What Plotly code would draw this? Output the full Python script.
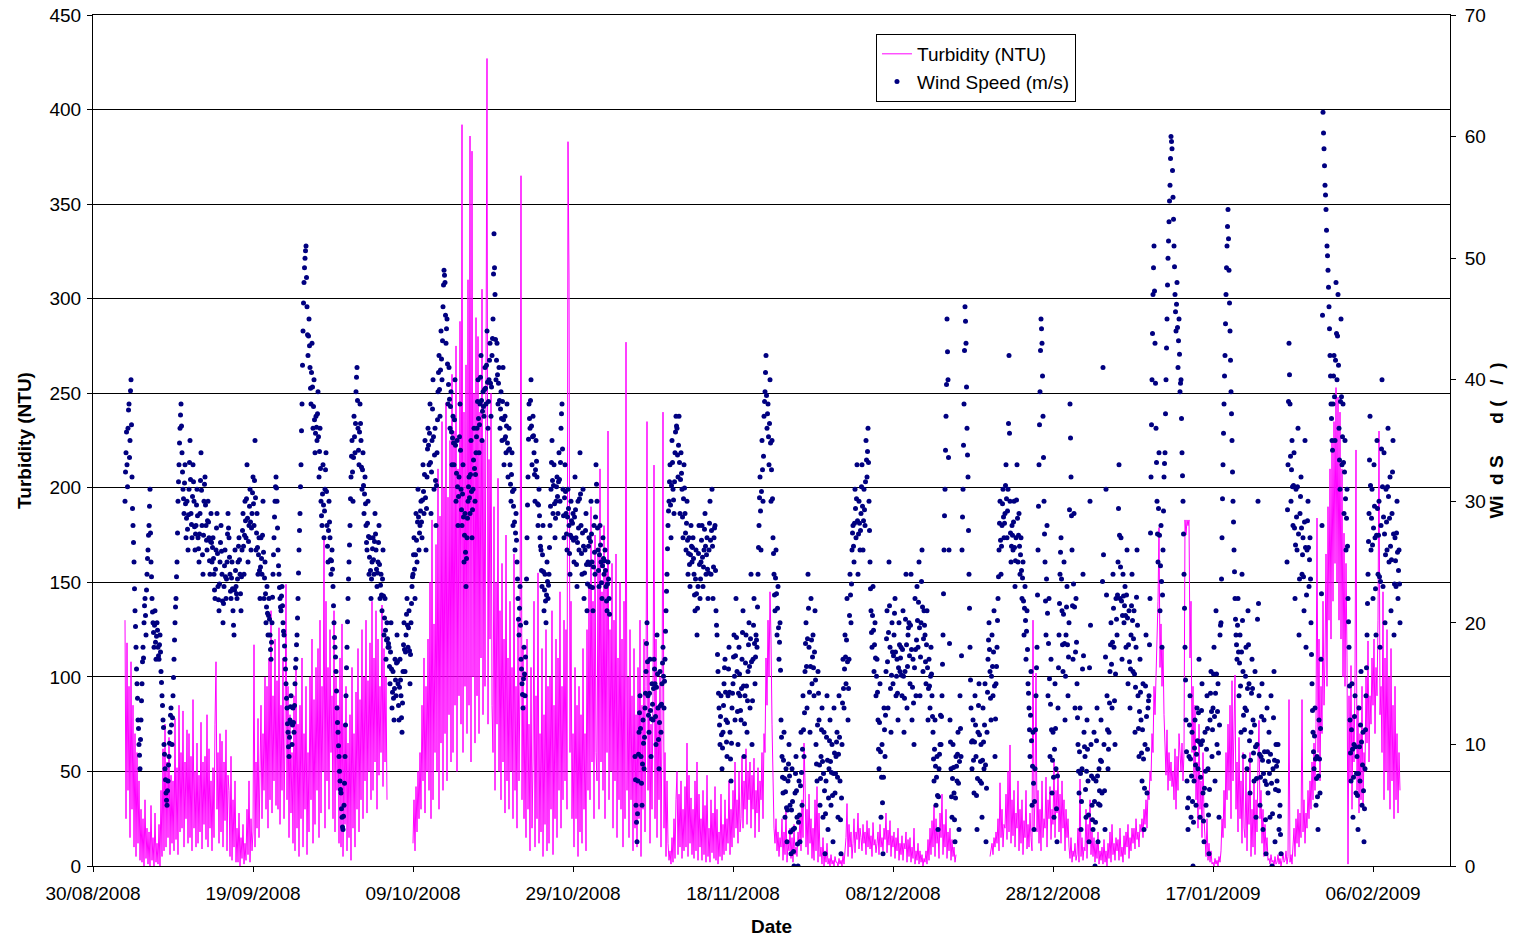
import pandas as pd
import plotly.graph_objects as go

N = None

# Dates at which each month's readings start
month_starts = ["2008-09-03", "2008-10-01", "2008-11-01", "2008-12-01", "2009-01-01", "2009-02-01"]

x_tick_dates = ["2008-08-30", "2008-09-19", "2008-10-09", "2008-10-29", "2008-11-18",
                "2008-12-08", "2008-12-28", "2009-01-17", "2009-02-06"]

# Wind speed (m/s), every 90 minutes, one row per day
wind_sep = [
    30,32.4,34,35.7,33,31.2,36,37.5,38,33.6,35,39.1,40,36.3,32,29.4,
    28,26.6,25,22.8,21,19.7,18,16.2,15,13.8,12,11.3,10,9.1,8,10.4,
    12,13.6,15,16.8,18,17.1,20,21.4,22,20.6,19,22.7,24,25.3,26,27.2,
    28,29.6,31,27.4,25,23.8,22,20.9,20,19.2,18,19.8,21,18.4,17,18.9,
    20,19.4,18,17.3,17,18.2,19,17.6,16,15.1,14,13.2,12,11.4,10,9.2,
    8,7.1,6,5.4,5,6.2,7,8.3,9,10.1,11,12.4,13,11.6,10,12.2,
    14,15.5,17,18.6,20,21.3,22,23.8,25,27.4,30,31.6,33,34.8,36,37.1,
    38,36.2,34,32.4,31,30.2,29,31.5,33,29.8,27,28.6,30,27.7,26,28.9,
    31,33.2,35,31.8,29,28.1,27,30.4,33,31.6,30,27.9,26,27.3,28,29.7,
    31,28.8,27,26.1,25,27.3,29,31.7,34,30.9,28,25.6,24,27.2,30,31.4,
    32,29.7,28,26.8,26,28.4,30,28.3,27,25.1,24,26.7,29,26.6,25,26.2,
    27,25.3,24,22.7,22,24.4,26,27.8,29,25.7,23,21.9,21,23.2,25,26.6,
    28,25.9,24,21.8,20,21.6,23,24.7,26,23.8,22,23.6,25,27.3,29,27.8,
    27,25.4,24,22.6,22,23.7,25,22.8,21,19.8,19,22.7,26,24.3,23,22.4,
    22,23.6,25,26.3,27,25.2,24,22.4,21,23.8,26,27.6,29,26.3,24,27.2,
    30,28.4,27,30.2,33,28.6,25,26.7,28,29.6,31,28.3,26,27.8,29,30.7,
    32,29.8,28,31.7,35,30.3,26,27.4,29,26.2,24,25.6,27,24.3,22,24.6,
    27,25.3,24,27.2,30,25.8,22,23.7,25,22.4,20,21.3,23,20.8,19,20.6,
    22,20.3,19,17.8,17,18.4,20,22.1,24,25.6,27,28.7,30,31.2,32,31.1,
    30,27.8,26,24.7,24,22.9,22,21.3,21,22.2,23,21.4,20,19.3,19,18.1,
    17,16.2,15,13.8,13,11.7,11,9.8,9,10.6,12,13.1,14,11.8,10,11.6,
    13,11.8,11,13.2,15,16.3,17,18.2,19,20.4,22,24.1,26,27.6,29,31.2,
    33,35.8,38,41.2,44,46.3,48,49.2,50,50.6,51,48.4,46,43.7,42,43.6,
    45,42.8,41,39.3,38,40.6,43,39.4,36,37.8,40,36.7,34,35.6,37,36.1,
    35,37.2,39,35.3,32,34.1,36,32.7,30,28.8,28,30.6,33,29.7,27,29.2,
    31,32.6,34,30.8,28,26.3,25,27.6,30,28.3,27,25.2,24,25.1,26,24.4,
    23,21.4,20,18.8,18,17.2,16,14.4,13,11.8,11,9.9,9,7.8,7,6.3,
    6,4.7,4,3.2,3,4.1,5,6.8,9,11.6,14,16.3,18,20.1,22,23.6,
]
wind_oct = [
    25,26.4,28,30.2,32,33.7,35,32.4,30,33.6,37,35.3,34,36.4,39,40.2,
    41,38.3,36,34.2,33,35.7,38,36.4,35,32.8,31,32.6,34,31.3,29,30.6,
    32,29.8,28,26.6,26,28.2,30,27.1,24,25.4,27,24.3,22,23.6,25,26.1,
    27,25.2,24,26.7,29,27.3,26,24.4,23,24.1,25,26.6,28,24.8,22,23.1,
    24,22.3,21,23.6,26,22.2,19,20.4,22,19.4,17,18.6,20,18.7,18,18.3,
    18,16.4,15,17.6,20,16.2,13,14.3,16,13.8,12,14.6,17,15.3,14,16.7,
    19,16.8,15,13.2,12,14.7,17,15.3,14,12.2,11,13.4,16,18.2,20,17.8,
    16,17.6,19,20.7,22,19.8,18,19.6,21,17.7,15,17.4,20,21.6,23,23.8,
    24,25.6,27,24.4,22,25.6,29,26.8,25,28.3,31,28.7,26,27.4,28,29.2,
    30,28.3,27,30.1,33,30.8,29,32.2,35,30.3,26,29.4,32,34.3,36,34.6,
    33,35.6,38,33.2,29,32.4,35,37.6,40,35.3,31,33.8,36,31.7,28,31.3,
    34,36.7,39,40.6,42,39.2,37,40.8,44,41.7,40,43.2,46,47.8,49,48.6,
    48,45.3,43,44.2,45,41.3,38,39.6,41,38.4,36,37.8,39,35.7,33,35.2,
    37,34.8,33,36.7,40,34.6,30,32.3,35,31.2,28,30.4,32,35.3,38,34.2,
    31,29.3,28,30.6,33,28.7,25,27.2,29,25.8,23,25.3,27,28.6,30,31.2,
    32,30.3,29,32.2,35,30.8,27,29.3,31,33.4,36,32.7,30,32.2,34,35.3,
    36,38.2,40,36.8,34,36.3,38,40.2,42,38.3,35,37.4,39,37.8,37,39.2,
    41,39.3,38,41.2,44,39.8,36,38.2,40,41.6,43,39.7,37,39.4,42,43.4,
    45,48.7,52,49.2,47,43.3,40,41.6,43,40.4,38,39.7,41,38.3,36,37.6,
    39,36.8,35,38.2,41,36.7,33,35.1,37,35.3,34,36.2,38,34.8,32,34.2,
    36,34.3,33,31.4,30,32.2,34,30.8,28,29.6,31,28.3,26,27.4,29,26.8,
    25,23.6,22,20.3,19,21.2,23,19.8,17,16.2,15,14.1,13,15.4,18,15.8,
    14,17.2,20,23.6,27,29.7,32,35.1,38,36.8,36,38.3,40,36.2,33,35.3,
    37,35.4,34,32.2,30,32.6,35,33.3,32,29.8,28,29.7,31,28.8,27,26.3,
    26,24.3,23,25.6,28,24.2,21,22.7,24,21.8,20,22.3,25,23.4,22,23.1,
    24,26.2,28,29.6,31,33.2,35,31.7,29,31.3,33,29.8,27,28.6,30,31.2,
    32,30.4,29,31.6,34,31.8,30,33.2,36,37.2,38,34.3,31,28.8,27,30.3,
    33,30.8,29,27.3,26,28.7,31,29.4,28,25.7,24,27.2,30,28.4,27,28.2,
    29,26.8,25,28.7,32,29.3,27,24.8,23,26.6,30,27.8,26,30.2,34,30.6,
    28,25.7,24,27.4,31,26.3,22,24.1,26,27.6,29,24.8,21,23.2,25,26.3,
    27,24.8,23,26.7,30,27.3,25,22.9,21,24.6,28,25.8,24,28.7,33,31.4,
]
wind_nov = [
    30,27.8,26,24.3,23,25.6,28,26.4,25,23.3,22,24.7,27,25.3,24,25.1,
    26,24.3,23,21.8,21,23.2,25,23.6,22,20.7,N,N,N,N,N,N,
    N,N,N,N,N,N,N,N,N,N,N,N,N,N,N,N,
    N,N,N,N,N,N,N,N,N,N,N,N,N,N,N,N,
    N,N,N,N,N,N,N,N,N,N,N,N,9,7.1,5,3.6,
    2,4.3,7,9.2,11,12.6,14,11.3,9,6.8,5,8.4,12,10.1,8,10.6,
    13,14.2,16,18.3,20,16.8,14,12.4,11,14.2,17,12.8,9,12.1,15,13.3,
    12,14.6,17,16.2,15,12.3,10,14.7,19,15.8,13,10.4,8,11.8,16,13.2,
    11,13.3,15,16.7,18,15.6,13,15.2,17,19.3,21,22.6,24,26.1,28,29.2,
    30,31.6,33,29.7,27,31.3,35,33.2,31,30.1,29,31.6,34,35.7,37,36.2,
    36,33.8,32,34.6,37,33.2,29,31.8,34,32.3,31,28.7,27,30.2,33,31.1,
    29,27.4,26,28.2,30,26.8,24,25.7,27,24.8,23,25.6,28,26.3,25,26.2,
    27,25.3,24,22.3,21,23.6,26,22.4,19,21.2,23,25.7,28,24.8,22,23.6,
    25,26.8,28,25.4,23,24.6,26,27.7,29,26.3,24,25.6,27,24.4,22,24.1,
    26,28.2,30,26.8,24,27.6,31,26.3,22,24.6,27,27.8,28,24.3,21,19.8,
    19,17.4,16,14.2,13,11.6,10,12.3,14,10.8,8,9.7,11,13.2,15,16.3,
    17,14.3,12,10.2,9,11.8,14,16.2,18,14.3,11,8.8,7,10.1,13,14.2,
    15,17.2,19,15.6,12,17.3,22,18.8,16,12.7,10,14.2,18,15.8,14,12.8,
    12,14.6,17,19.2,21,14.8,9,11.7,14,16.7,19,14.8,11,13.6,16,18.2,
    20,16.4,13,18.7,24,16.8,10,13.6,17,19.8,22,18.3,15,17.2,19,18.6,
    18,21.3,24,26.2,28,30.3,32,29.2,26,30.8,35,32.6,30,33.7,37,38.2,
    39,40.6,42,38.7,36,37.2,38,35.3,33,36.4,40,34.8,30,32.6,35,30.2,
    27,25.7,24,22.3,21,23.7,26,22.4,19,21.2,23,19.6,17,18.4,20,16.1,
    12,10.6,9,7.3,6,8.7,11,7.2,4,6.1,8,4.8,2,4.6,7,8.4,
    10,7.4,5,2.8,1,4.6,8,5.3,3,1.2,0,3.1,6,7.6,9,6.2,
    4,1.8,0,3.6,7,4.2,2,6.6,11,7.7,5,9.6,14,11.2,9,12.6,
    16,18.3,20,16.4,13,18.7,24,21.2,18,14.3,11,16.4,22,18.6,15,17.2,
    19,16.3,14,17.6,21,15.3,10,8.4,7,11.6,16,14.2,12,8.3,5,7.2,
    9,11.2,13,8.6,4,7.6,11,6.2,1,4.3,7,10.6,14,8.7,3,5.6,
    8,10.3,12,8.6,5,7.7,10,5.8,2,7.6,13,9.3,6,7.6,9,10.2,
]
wind_dec = [
    11,7.3,4,9.2,14,10.6,7,3.8,1,5.6,10,13.4,17,14.6,13,16.2,
    19,17.2,15,18.6,22,16.8,12,14.6,17,20.6,24,22.3,20,23.2,26,27.4,
    28,26.3,25,28.2,31,29.4,27,30.2,33,28.4,24,27.3,30,28.2,26,27.6,
    29,31.2,33,29.6,26,28.4,31,29.3,28,31.6,35,33.4,32,34.1,36,33.2,
    30,27.6,25,22.8,21,19.2,18,20.6,23,19.4,16,18.2,20,17.1,14,15.6,
    17,14.3,12,9.6,8,11.8,15,9.4,4,7.3,10,5.2,1,7.3,13,11.2,
    9,12.4,16,18.7,21,16.8,13,19.2,25,21.4,18,14.6,11,15.7,20,17.6,
    15,17.3,19,20.8,22,17.6,14,15.6,17,14.2,12,16.3,20,18.2,16,17.1,
    18,15.7,14,17.8,21,15.6,11,13.8,16,20.3,24,18.2,13,16.4,19,19.6,
    20,17.3,15,19.8,24,17.8,12,14.7,17,13.4,10,16.3,22,17.8,14,18.6,
    23,20.2,18,21.7,25,19.6,14,17.2,20,23.4,26,21.3,16,18.7,21,19.8,
    19,16.8,15,18.2,21,16.3,12,14.6,17,14.8,13,15.6,18,15.8,14,12.3,
    11,8.8,7,9.6,12,8.2,5,7.3,9,5.8,3,5.7,8,9.2,10,12.4,
    10,12.3,14,16.6,19,22.4,26,28.8,31,34.2,37,39.6,45,42.3,40,33.6,
    26,18.3,12,10.2,8,5.7,4,7.2,10,8.1,6,3.8,2,5.6,9,8.2,
    7,9.2,11,6.8,3,8.6,14,11.3,9,17.3,26,28.7,31,34.6,38,42.4,
    46,44.8,43,39.4,36,33.8,32,27.6,24,21.2,18,15.3,13,10.2,8,10.3,
    12,8.7,6,10.2,14,11.6,9,5.8,3,7.2,11,13.2,15,10.8,7,8.6,
    10,6.8,4,8.7,13,10.2,8,11.6,15,8.3,2,6.4,11,14.3,17,18.6,
    20,17.8,16,13.8,12,15.6,19,16.4,14,17.6,21,14.8,9,12.1,15,16.4,
    18,20.2,22,23.8,26,28.2,30,26.8,24,26.3,28,29.8,31,28.7,27,28.2,
    29,31.3,33,30.2,27,29.2,31,36.4,42,35.6,30,27.4,25,26.3,28,27.2,
    26,28.3,30,26.2,23,25.1,27,30.1,33,28.6,25,27.2,29,26.3,24,25.6,
    27,24.3,22,23.7,25,21.8,19,21.2,23,20.2,17,19.3,21,17.8,15,14.2,
    13,11.2,9,12.4,16,10.3,5,8.2,11,6.8,3,5.3,8,11.2,14,16.3,
    18,22.3,26,29.6,33,36.3,39,42.4,45,44.2,43,40.3,37,33.6,30,27.3,
    25,21.8,19,23.6,28,20.8,14,18.3,22,15.4,9,13.3,17,11.2,6,8.7,
    11,7.3,4,9.6,15,11.3,8,4.7,2,7.4,13,16.3,19,21.6,24,25.8,
    27,23.6,21,18.2,16,20.7,25,18.3,12,15.6,19,21.3,23,18.2,14,17.2,
    20,29.3,38,35.2,32,28.8,26,21.4,17,23.2,29,21.3,13,17.6,22,18.4,
    15,12.2,10,7.8,6,9.4,13,7.6,3,5.3,8,16.2,24,17.3,11,9.8,
]
wind_jan = [
    9,6.3,4,7.8,12,9.6,7,4.2,2,16.3,30,19.8,10,7.4,5,3.8,
    3,7.2,11,5.3,0,3.6,7,10.3,13,7.4,2,5.1,8,6.2,5,8.7,
    12,8.6,6,23.4,41,25.6,10,6.2,3,17.2,31,22.3,14,11.2,8,9.6,
    11,13.4,16,18.2,20,16.6,13,18.4,24,21.2,18,13.6,10,15.8,22,20.3,
    19,22.3,25,29.4,33,27.2,22,24.6,27,21.8,17,20.6,24,22.2,20,21.4,
    23,20.6,18,22.3,26,20.4,15,18.2,21,16.8,13,16.2,19,21.4,24,20.2,
    16,18.7,21,15.8,11,14.7,18,22.1,26,19.8,14,11.3,9,12.7,17,14.3,
    12,9.3,7,11.2,15,8.8,3,6.4,10,14.8,19,12.3,6,9.6,13,13.6,
    14,18.2,22,27.4,32,36.3,40,43.8,47,49.2,51,47.3,43,39.7,36,33.2,
    30,27.3,25,29.4,34,27.2,21,24.7,28,23.4,18,22.3,26,29.2,32,33.1,
    34,37.2,40,42.6,45,47.8,50,51.4,53,54.7,56,58.2,60,59.6,59,57.2,
    55,53.2,51,49.3,47,45.6,44,46.2,48,44.3,41,43.2,45,42.1,39,39.7,
    40,36.8,34,32.1,30,27.3,24,21.2,18,15.3,12,9.4,7,4.8,3,5.6,
    9,11.6,14,8.8,4,7.4,11,5.3,0,3.6,7,9.7,12,8.3,5,9.2,
    13,10.3,8,12.6,17,10.2,4,7.3,10,12.8,15,10.3,6,3.7,2,6.4,
    11,7.8,5,9.6,14,11.3,8,4.2,1,6.3,12,14.2,16,12.7,9,11.2,
    13,15.8,18,12.3,7,14.2,21,15.8,10,12.7,15,9.3,4,11.6,19,19.8,
    20,23.6,27,30.2,33,35.6,38,40.3,42,44.6,47,49.2,51,52.6,54,51.6,
    49,46.3,44,41.6,39,37.2,35,32.4,30,28.3,26,24.2,22,20.3,19,18.2,
    17,19.8,22,17.6,14,16.7,19,14.8,11,17.6,24,20.2,16,12.4,9,11.2,
    13,15.6,18,12.8,8,14.6,21,18.2,15,10.3,6,8.7,11,14.2,17,14.6,
    12,9.3,7,11.6,16,9.8,4,7.2,10,20.3,30,21.6,14,9.2,5,7.3,
    9,12.3,15,8.7,3,7.6,12,9.4,7,3.8,1,6.7,13,9.4,6,8.6,
    11,7.6,4,9.2,14,6.8,0,4.3,8,12.2,16,8.7,2,6.3,10,8.2,
    7,8.6,10,6.2,3,4.1,5,2.6,1,N,N,N,N,N,N,N,
    N,N,N,N,25,29.3,33,38.2,43,40.4,38,33.7,30,32.6,35,31.2,
    28,31.3,34,27.8,22,26.4,31,28.7,26,31.2,36,27.3,19,23.6,29,30.4,
    32,27.8,24,25.6,27,23.8,21,28.3,35,26.2,18,22.3,26,28.4,30,26.2,
    23,25.2,27,23.6,20,17.4,15,12.8,11,9.4,8,10.7,13,8.8,5,7.2,
    9,5.7,3,7.4,12,8.8,6,11.3,17,22.4,28,45.3,62,60.3,59,57.6,
    56,55.2,54,52.3,51,50.2,49,47.6,46,44.2,42,40.3,38,36.8,35,34.2,
]
wind_feb = [
    38,40.3,42,38.6,35,41.6,48,43.8,40,43.6,47,41.2,36,33.4,31,38.2,
    45,38.6,33,35.3,38,33.2,29,32.4,35,30.2,26,28.6,31,26.3,22,20.1,
    18,14.8,12,9.3,7,11.2,15,9.6,4,7.3,10,12.3,14,9.8,6,7.6,
    9,5.8,3,7.6,13,9.8,7,11.6,16,10.2,5,8.3,11,6.2,2,4.7,
    8,11.2,14,16.3,19,21.6,24,26.7,29,33.4,37,31.3,26,28.6,31,26.4,
    22,27.8,33,29.6,27,22.8,19,27.2,35,29.4,24,27.2,30,23.8,18,23.4,
    28,34.3,40,31.2,23,28.7,34,27.3,20,25.6,31,28.3,26,31.2,36,30.4,
    25,28.6,32,26.3,21,25.2,29,32.4,35,27.3,19,23.2,27,25.1,23,27.4,
    30,25.8,22,24.3,26,23.2,20,
]

# Turbidity (NTU), 3-hourly, one row per day
turb_sep = [
    130,25,118,40,95,15,108,30,
    85,10,70,5,60,12,45,3,
    30,2,25,0,35,4,20,1,
    18,0,32,3,15,0,28,2,
    12,1,22,0,40,5,62,8,
    75,10,55,15,68,6,48,12,
    45,8,78,14,52,6,85,18,
    60,20,82,10,55,25,72,12,
    70,15,58,8,88,20,50,10,
    65,12,48,18,76,9,55,22,
    58,14,80,10,62,20,45,8,
    52,15,75,108,30,60,12,70,
    18,66,10,55,24,72,8,48,
    40,5,58,3,35,10,45,2,
    20,2,28,0,15,4,22,1,
    12,3,30,6,45,2,25,8,
    18,117,10,55,20,78,15,60,
    85,25,70,40,100,30,95,20,
    110,35,135,28,90,45,120,32,
    98,30,126,22,85,40,110,25,
    70,149,35,95,15,80,28,60,
    12,90,8,105,20,75,5,85,
    25,110,10,70,30,95,6,60,
    18,100,35,120,12,88,22,105,
    40,115,15,130,28,95,50,174,
    20,140,45,105,30,125,60,90,
    25,135,18,100,40,85,12,110,
    10,128,5,75,22,95,8,65,
]
turb_oct = [
    15,80,3,105,20,70,10,92,
    30,115,18,88,35,125,25,100,
    45,130,28,98,50,118,35,140,
    40,110,55,135,30,120,48,95,
    60,138,42,115,55,100,35,N,
    N,N,N,N,N,N,N,N,
    N,N,N,N,N,N,N,N,
    N,N,N,N,N,N,N,N,
    12,35,8,42,18,50,25,60,
    30,85,45,110,28,95,50,120,
    40,150,25,183,35,128,60,170,
    50,210,30,185,65,235,40,200,
    70,245,45,195,80,225,55,260,
    60,230,85,275,50,210,90,288,
    75,392,60,240,95,265,70,310,
    85,386,55,378,100,250,65,290,
    90,280,70,240,110,305,80,225,
    95,260,427,75,215,120,250,85,
    60,190,40,150,75,205,50,135,
    35,160,55,120,28,175,45,110,
    30,140,50,105,25,165,40,95,
    20,130,45,100,365,35,115,25,
    85,15,120,30,75,8,105,20,
    55,140,10,90,25,155,12,70,
    18,115,5,80,22,125,8,95,
    12,100,30,135,6,85,25,120,
    15,110,40,145,20,95,35,130,
    45,125,30,383,312,60,140,25,
    70,10,105,25,85,5,95,18,
    80,12,115,30,70,8,125,40,
    150,35,190,55,140,25,175,60,
]
turb_nov = [
    45,165,30,210,55,145,40,180,
    25,155,60,230,35,125,50,160,
    20,130,45,165,15,110,35,150,
    30,120,10,140,25,277,40,100,
    15,125,35,90,8,115,20,80,
    10,105,25,130,5,85,30,120,
    18,95,235,40,110,12,75,30,
    90,212,25,120,15,85,35,100,
    10,75,240,20,60,5,45,12,
    3,8,1,15,2,25,4,35,
    50,6,38,10,45,4,30,8,
    42,10,65,5,48,12,36,6,
    30,4,45,8,55,3,38,10,
    25,3,40,6,32,2,48,5,
    20,2,35,7,28,4,42,3,
    30,1,18,5,38,3,22,6,
    35,8,25,12,45,6,30,10,
    40,15,55,20,35,12,50,18,
    25,58,20,45,30,62,22,50,
    35,55,20,48,30,57,15,40,
    28,52,18,45,35,60,25,70,
    60,110,85,130,100,145,120,75,
    40,20,12,25,8,18,5,15,
    10,25,3,18,6,30,2,12,
    8,20,4,15,2,22,6,10,
    5,18,12,28,8,35,15,65,
    45,10,30,6,38,12,25,4,
    20,3,35,8,42,2,28,5,
    10,1,15,0,8,2,12,1,
    4,0,6,1,3,0,5,2,
]
turb_dec = [
    2,0,4,1,3,0,6,1,
    8,15,33,5,22,10,18,4,
    12,25,7,18,14,28,9,20,
    15,8,22,12,18,6,24,10,
    20,9,16,5,23,11,14,7,
    12,18,6,22,10,15,8,20,
    14,28,7,19,11,24,5,16,
    10,18,4,15,8,20,3,12,
    6,16,3,12,9,18,2,14,
    5,15,2,10,4,20,1,8,
    3,12,1,8,2,6,0,4,
    2,8,1,14,3,20,6,24,
    10,32,5,25,12,18,4,28,
    15,38,6,22,10,30,4,18,
    8,20,3,14,5,10,2,6,
    N,N,N,N,N,N,N,N,
    N,N,N,N,N,N,N,N,
    N,N,N,N,N,N,N,N,
    N,N,N,N,N,N,N,N,
    N,5,8,12,6,15,10,18,
    12,25,8,44,15,30,10,22,
    20,38,14,50,18,64,12,35,
    16,40,10,28,20,45,8,30,
    12,35,6,24,15,40,9,22,
    10,28,15,8,130,20,35,102,
    18,40,12,30,8,45,15,25,
    20,47,10,35,25,42,14,30,
    22,55,15,40,28,50,18,38,
    12,45,20,35,8,30,15,25,
    10,4,15,2,8,5,12,3,
    6,20,2,46,5,15,3,10,
]
turb_jan = [
    8,30,4,22,12,35,6,18,
    5,15,2,12,4,18,1,8,
    3,10,1,14,2,8,0,12,
    4,18,2,22,6,12,3,15,
    8,14,3,20,5,10,2,16,
    6,18,10,22,4,15,8,20,
    12,20,9,25,14,18,10,22,
    18,25,15,30,22,35,20,40,
    35,50,45,70,60,95,80,110,
    120,140,179,105,128,95,115,80,
    65,48,72,40,60,45,55,42,
    50,35,62,30,58,40,70,55,
    50,65,45,60,183,175,183,180,
    183,110,140,60,95,45,85,35,
    55,20,75,30,45,15,60,25,
    15,5,25,3,12,2,8,1,
    2,0,4,1,3,0,5,2,
    8,25,15,40,20,60,35,75,
    40,85,25,98,45,70,101,30,
    55,18,68,25,45,12,60,20,
    15,50,8,38,22,60,5,30,
    10,45,6,35,18,55,77,25,
    40,12,30,5,22,8,15,3,
    4,1,6,2,3,0,5,1,
    2,6,1,4,0,3,7,2,
    3,8,1,5,88,2,6,1,
    8,20,5,25,12,30,10,28,
    15,88,18,35,12,28,20,40,
    25,45,30,55,35,65,40,75,
    184,60,120,45,95,70,140,85,
    110,165,95,190,130,210,120,225,
]
turb_feb = [
    140,235,160,253,150,248,130,240,
    120,210,100,176,95,160,110,1,
    90,45,106,30,80,55,100,220,
    40,85,28,70,35,95,30,60,
    50,100,65,119,55,90,75,110,
    85,120,70,105,90,130,230,80,
    95,60,145,35,110,50,125,40,
    100,30,115,45,85,25,95,35,
    70,28,60,40,
]

wind_months = [wind_sep, wind_oct, wind_nov, wind_dec, wind_jan, wind_feb]
turb_months = [turb_sep, turb_oct, turb_nov, turb_dec, turb_jan, turb_feb]

wind_x, wind_y, turb_x, turb_y = [], [], [], []
for start, wl, tl in zip(month_starts, wind_months, turb_months):
    wind_x += list(pd.date_range(start, periods=len(wl), freq="90min"))
    wind_y += wl
    turb_x += list(pd.date_range(start, periods=len(tl), freq="3h"))
    turb_y += tl

FONT = "Liberation Sans, Arial, sans-serif"

fig = go.Figure()
fig.add_trace(go.Scatter(
    x=turb_x, y=turb_y, mode="lines", name="Turbidity (NTU)",
    line=dict(color="#FF00FF", width=1), connectgaps=False,
))
fig.add_trace(go.Scatter(
    x=wind_x, y=wind_y, mode="markers", name="Wind Speed (m/s)",
    marker=dict(color="#000080", size=5, line=dict(width=0)), yaxis="y2",
))

nb = "\u00a0"
right_title = "Wi" + nb * 2 + "d S" + nb * 6 + "d (" + nb * 3 + "/" + nb * 2 + ")"

fig.update_layout(
    width=1517, height=939, autosize=False,
    paper_bgcolor="white", plot_bgcolor="white",
    margin=dict(l=93, r=67, t=15, b=73),
    font=dict(family=FONT, size=19, color="black"),
    showlegend=True,
    xaxis=dict(
        type="date", range=["2008-08-30", "2009-02-15 15:00"],
        tickvals=x_tick_dates, tickformat="%d/%m/%Y",
        ticks="outside", ticklen=5, tickcolor="black", ticklabelstandoff=5,
        showline=True, linecolor="black", linewidth=1, mirror=True,
        showgrid=False, zeroline=False,
        title=dict(text="Date", font=dict(family=FONT, size=19, weight="bold"), standoff=16),
        automargin=False,
    ),
    yaxis=dict(
        range=[0, 450], tick0=0, dtick=50,
        showgrid=True, gridcolor="black", gridwidth=1,
        ticks="outside", ticklen=5, tickcolor="black", ticklabelstandoff=2,
        showline=True, linecolor="black", linewidth=1,
        zeroline=False,
        title=dict(text="Turbidity (NTU)", font=dict(family=FONT, size=19, weight="bold"), standoff=12),
        automargin=False,
    ),
    yaxis2=dict(
        range=[0, 70], tick0=0, dtick=10, overlaying="y", side="right",
        showgrid=False, zeroline=False,
        ticks="outside", ticklen=5, tickcolor="black", ticklabelstandoff=5,
        showline=True, linecolor="black", linewidth=1,
        title=dict(text=right_title, font=dict(family=FONT, size=19, weight="bold"), standoff=2),
        automargin=False,
    ),
    legend=dict(
        x=0.577, y=0.9777, xanchor="left", yanchor="top",
        bordercolor="black", borderwidth=1, bgcolor="white",
        font=dict(family=FONT, size=19), tracegroupgap=0,
    ),
)

fig.write_html("out.html", config={"displayModeBar": False},
               post_script="document.body.style.margin='0';document.body.style.overflow='hidden';")
